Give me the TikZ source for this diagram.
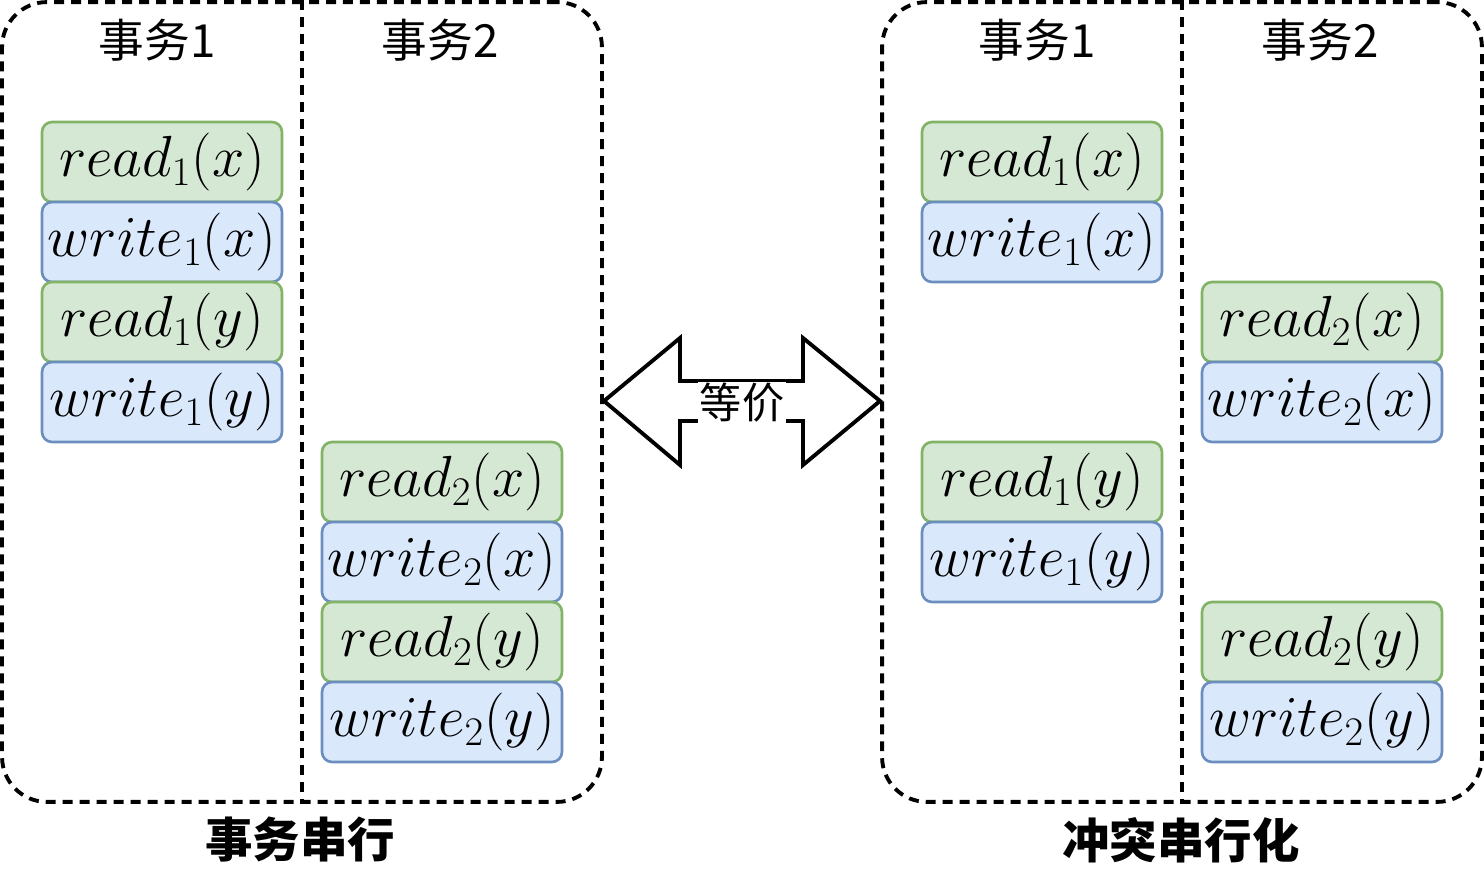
\RequirePackage{fix-cm}
\documentclass[tikz,border=0pt]{standalone}
\usepackage{fontspec}
\newfontfamily\cjk{Noto Sans CJK SC}

\definecolor{opgreen}{HTML}{D5E8D4}
\definecolor{opgreenline}{HTML}{82B366}
\definecolor{opblue}{HTML}{DAE8FC}
\definecolor{opblueline}{HTML}{6C8EBF}

\tikzset{
  opbox/.style={draw, rounded corners=0.2cm, minimum width=4.8cm, minimum height=1.6cm,
    line width=1.5pt, inner sep=0pt, font=\fontsize{33}{40}\selectfont},
  readbox/.style={opbox, fill=opgreen, draw=opgreenline},
  writebox/.style={opbox, fill=opblue, draw=opblueline},
  panel/.style={draw, rounded corners=0.9cm, minimum width=12cm, minimum height=16cm,
    line width=2.2pt, dash pattern=on 0.2cm off 0.14cm, inner sep=0pt},
  divider/.style={line width=2.2pt, dash pattern=on 0.2cm off 0.14cm},
  header/.style={font=\cjk\fontsize{26}{30}\selectfont},
  caption/.style={font=\cjk\bfseries\fontsize{27}{32}\selectfont},
}

\begin{document}
\begin{tikzpicture}[x=0.02cm, y=-0.02cm]
  \useasboundingbox (0,0) rectangle (1484,884);

  % Panels
  \node[panel] (serial) at (302,402) {};
  \node[panel] (conflict) at (1182,402) {};
  \draw[divider] (serial.north) -- (serial.south);
  \draw[divider] (conflict.north) -- (conflict.south);

  % Titles
  \node[header] (sta) at (157,40) {事务1};
  \node[header] (stb) at (440,40) {事务2};
  \node[header] (cta) at (1037,40) {事务1};
  \node[header] (ctb) at (1320,40) {事务2};

  % Serial schedule
  \node[readbox]  (sr1x) at (162,162) {$read_1(x)$};
  \node[writebox] (sw1x) at (162,242) {$write_1(x)$};
  \node[readbox]  (sr1y) at (162,322) {$read_1(y)$};
  \node[writebox] (sw1y) at (162,402) {$write_1(y)$};
  \node[readbox]  (sr2x) at (442,482) {$read_2(x)$};
  \node[writebox] (sw2x) at (442,562) {$write_2(x)$};
  \node[readbox]  (sr2y) at (442,642) {$read_2(y)$};
  \node[writebox] (sw2y) at (442,722) {$write_2(y)$};

  % Conflict serializable schedule
  \node[readbox]  (cr1x) at (1042,162) {$read_1(x)$};
  \node[writebox] (cw1x) at (1042,242) {$write_1(x)$};
  \node[readbox]  (cr2x) at (1322,322) {$read_2(x)$};
  \node[writebox] (cw2x) at (1322,402) {$write_2(x)$};
  \node[readbox]  (cr1y) at (1042,482) {$read_1(y)$};
  \node[writebox] (cw1y) at (1042,562) {$write_1(y)$};
  \node[readbox]  (cr2y) at (1322,642) {$read_2(y)$};
  \node[writebox] (cw2y) at (1322,722) {$write_2(y)$};

  % Equivalence arrow
  \draw[line width=2.2pt, line join=miter] (604,401) -- (680,338) -- (680,381) -- (803,381)
    -- (803,338) -- (880,401) -- (803,465) -- (803,421) -- (680,421) -- (680,465) -- cycle;
  \node[fill=white, inner sep=1pt, font=\cjk\fontsize{24}{28}\selectfont] (equiv) at (742,403) {等价};

  % Captions
  \node[caption] (scap) at (300,840) {事务串行};
  \node[caption] (ccap) at (1181,840) {冲突串行化};
\end{tikzpicture}
\end{document}
